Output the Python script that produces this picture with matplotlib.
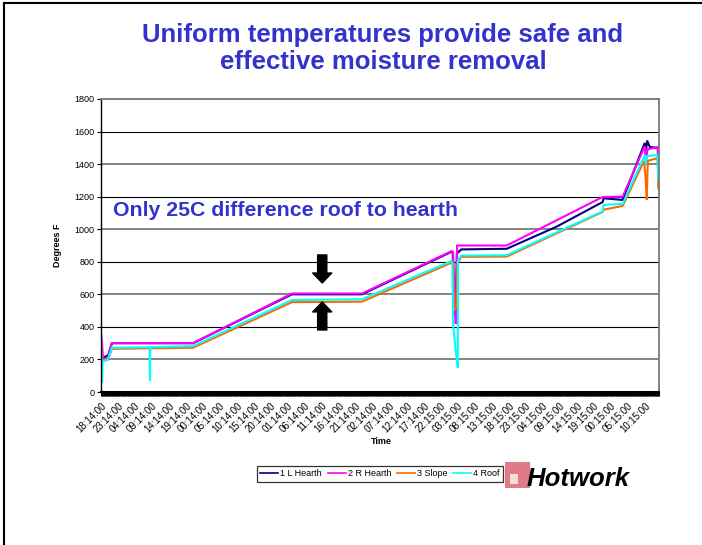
import matplotlib
matplotlib.use("Agg")
import matplotlib.pyplot as plt
from matplotlib.lines import Line2D
from matplotlib.patches import Rectangle
from matplotlib.ticker import MultipleLocator, FixedLocator

plt.rcParams['font.family'] = ['Liberation Sans', 'DejaVu Sans']

# ---- data (hours since 18:14:00, temperature in degrees F) ----
tick_labels = ["18:14:00", "23:14:00", "04:14:00", "09:14:00", "14:14:00", "19:14:00",
               "00:14:00", "05:14:00", "10:14:00", "15:14:00", "20:14:00", "01:14:00",
               "06:14:00", "11:14:00", "16:14:00", "21:14:00", "02:14:00", "07:14:00",
               "12:14:00", "17:14:00", "22:15:00", "03:15:00", "08:15:00", "13:15:00",
               "18:15:00", "23:15:00", "04:15:00", "09:15:00", "14:15:00", "19:15:00",
               "00:15:00", "05:15:00", "10:15:00"]
tick_hours = [5 * i for i in range(len(tick_labels))]

l_hearth_t = [0, 0.4, 2.1, 3.2, 27.1, 56.2, 76.8, 103.2, 103.5, 103.8, 104.4, 104.7, 106.0,
              119.4, 134.0, 147.6, 147.9, 153.5, 160.0, 160.3, 160.7, 161.5, 163.8, 164.1]
l_hearth_v = [300, 210, 225, 300, 300, 600, 600, 862, 860, 480, 480, 850, 876,
              880, 1015, 1167, 1190, 1180, 1530, 1460, 1545, 1505, 1500, 1500]

r_hearth_t = [0, 0.3, 0.6, 2.1, 3.2, 27.1, 56.2, 76.8, 103.2, 103.6, 104.0, 104.3, 104.6,
              104.8, 119.4, 147.6, 153.5, 160.0, 160.4, 160.8, 163.8, 164.0, 164.1]
r_hearth_v = [360, 300, 200, 215, 300, 300, 605, 605, 866, 860, 650, 420, 430,
              900, 900, 1198, 1200, 1510, 1420, 1490, 1505, 1290, 1290]

slope_t = [0, 0.3, 0.5, 2.1, 3.2, 27.1, 56.2, 76.8, 103.2, 103.6, 103.9, 104.6, 104.9, 106.0,
           119.4, 147.6, 147.9, 153.5, 159.8, 160.3, 160.6, 160.9, 163.8, 164.0, 164.1]
slope_v = [260, 200, 190, 200, 265, 272, 552, 555, 795, 790, 500, 520, 790, 830,
           832, 1106, 1120, 1143, 1420, 1300, 1180, 1420, 1437, 1250, 1250]

roof_t = [0, 0.3, 0.5, 2.1, 3.2, 14.3, 14.4, 14.5, 27.1, 56.2, 76.8, 103.2, 103.4, 103.6,
          104.0, 104.5, 105.0, 105.05, 106.0, 119.4, 147.6, 147.9, 153.5, 160.0, 160.3,
          160.6, 163.8, 164.0, 164.1]
roof_v = [290, 60, 190, 200, 272, 275, 70, 275, 282, 565, 570, 805, 780, 420,
          330, 230, 150, 810, 838, 840, 1110, 1150, 1155, 1455, 1400,
          1450, 1455, 1300, 1300]

series = [("1 L Hearth", l_hearth_t, l_hearth_v, "#000080"),
          ("2 R Hearth", r_hearth_t, r_hearth_v, "#FF00FF"),
          ("3 Slope", slope_t, slope_v, "#FF6600"),
          ("4 Roof", roof_t, roof_v, "#00FFFF")]

# ---- figure ----
W, H = 702, 545
fig = plt.figure(figsize=(W / 100, H / 100), dpi=100)
fig.patch.set_facecolor("white")

def fx(px):
    return px / W

def fy(py):
    return 1 - py / H

ax = fig.add_axes([fx(101), fy(392), fx(659) - fx(101), fy(99) - fy(392)])

for name, t, v, c in series:
    ax.plot(t, v, color=c, lw=1.5, label=name, solid_joinstyle="miter")

ax.set_xlim(0, 164.2)
ax.set_ylim(0, 1800)
ax.yaxis.set_major_locator(MultipleLocator(200))
ax.xaxis.set_major_locator(FixedLocator(tick_hours))
ax.set_xticklabels(tick_labels, rotation=45, ha="right", va="top",
                   rotation_mode="anchor", fontsize=7)
ax.xaxis.set_minor_locator(MultipleLocator(0.2))
ax.tick_params(axis="x", which="both", length=3, width=0.8, direction="out",
               color="black", pad=3)
ax.tick_params(axis="y", which="major", length=3, width=0.8, labelsize=6.5, pad=1.5)

ax.grid(axis="y", which="major")
for i, gl in enumerate(ax.get_ygridlines()):
    if i % 2 == 1:
        gl.set_color("#000000")
        gl.set_linewidth(0.8)
    else:
        gl.set_color("#7a7a7a")
        gl.set_linewidth(1.3)
ax.set_axisbelow(True)

ax.spines["top"].set_color("#7a7a7a")
ax.spines["top"].set_linewidth(1.3)
ax.spines["right"].set_color("#7a7a7a")
ax.spines["right"].set_linewidth(1.3)
ax.spines["left"].set_linewidth(1.0)
ax.spines["bottom"].set_linewidth(1.5)

# callout text and arrows
ax.text(fx(113), fy(210), "Only 25C difference roof to hearth", transform=fig.transFigure,
        fontsize=15.3, fontweight="bold", color="#3333CC", ha="left", va="center")
arrow_x = 65.1
ax.annotate("", xy=(arrow_x, 670), xytext=(arrow_x, 842),
            arrowprops=dict(arrowstyle="simple,head_length=0.65,head_width=1.25,tail_width=0.6",
                            mutation_scale=11, color="black", shrinkA=0, shrinkB=0))
ax.annotate("", xy=(arrow_x, 553), xytext=(arrow_x, 381),
            arrowprops=dict(arrowstyle="simple,head_length=0.65,head_width=1.25,tail_width=0.6",
                            mutation_scale=11, color="black", shrinkA=0, shrinkB=0))

# titles / labels
fig.text(fx(383), fy(48.5), "Uniform temperatures provide safe and\neffective moisture removal",
         ha="center", va="center", fontsize=18.5, fontweight="bold", color="#3333CC",
         linespacing=1.12)
fig.text(fx(381), fy(441), "Time", ha="center", va="center", fontsize=6.5, fontweight="bold")
fig.text(fx(57), fy(245), "Degrees F", ha="center", va="center", rotation=90,
         fontsize=6.5, fontweight="bold")

leg = fig.legend(loc="center", bbox_to_anchor=(fx(380), fy(474)), ncol=4, fontsize=6.5,
                 frameon=True, fancybox=False, edgecolor="black", handlelength=2.0,
                 handletextpad=0.25, columnspacing=0.6, borderpad=0.35)
leg.get_frame().set_linewidth(0.9)
for h in leg.get_lines():
    h.set_linewidth(1.2)

# logo
fig.patches.append(Rectangle((fx(505), fy(488)), fx(25), fy(462) - fy(488),
                             transform=fig.transFigure, facecolor="#E07A86",
                             edgecolor="none"))
fig.patches.append(Rectangle((fx(510), fy(484)), fx(8), fy(474) - fy(484),
                             transform=fig.transFigure, facecolor="#F6DCE0",
                             edgecolor="none"))
fig.text(fx(527), fy(486), "Hotwork", ha="left", va="baseline", fontsize=18.5,
         fontweight="bold", fontstyle="italic", color="black")

# slide frame (top and left edges)
fig.lines.append(Line2D([fx(4), fx(4)], [0, fy(3)], transform=fig.transFigure,
                        color="black", lw=1.5))
fig.lines.append(Line2D([fx(4), 1], [fy(3), fy(3)], transform=fig.transFigure,
                        color="black", lw=1.5))

fig.savefig("out.png", dpi=100, facecolor="white")
